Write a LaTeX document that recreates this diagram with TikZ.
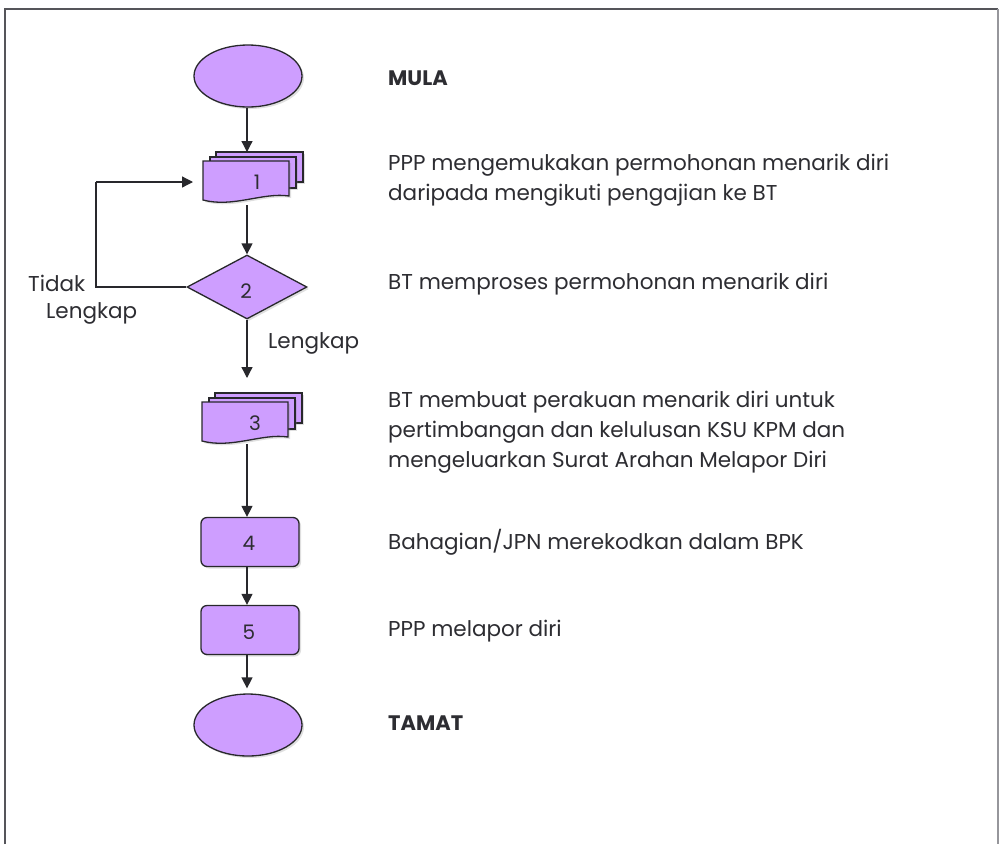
\documentclass[tikz,border=0pt]{standalone}
\usepackage{fontspec}
\setmainfont{Poppins}
\usetikzlibrary{arrows.meta,shapes.geometric,shadows}

\definecolor{lav}{RGB}{206,158,255}
\definecolor{ink}{RGB}{40,40,44}
\definecolor{txt}{RGB}{45,45,50}
\definecolor{framec}{RGB}{85,85,90}
\definecolor{framelight}{RGB}{150,150,155}

\tikzset{
  shapebase/.style={draw=ink, line width=1.3pt, fill=lav,
    drop shadow={shadow xshift=2pt, shadow yshift=-2pt, opacity=0.25}},
  terminal/.style={shapebase, ellipse, minimum width=108pt, minimum height=62pt, inner sep=0pt},
  processbox/.style={shapebase, rounded corners=6pt, minimum width=98pt, minimum height=49pt, inner sep=0pt},
  decision/.style={shapebase, diamond, minimum width=120pt, minimum height=64pt, inner sep=0pt},
  numtext/.style={text=txt, font=\fontsize{20}{24}\selectfont, inner sep=0pt},
  desc/.style={text=txt, font=\fontsize{21.5}{30}\selectfont, anchor=west, align=left, inner sep=0pt},
  title/.style={desc, font=\fontsize{21}{30}\selectfont\bfseries},
  flow/.style={draw=ink, line width=1.3pt, -{Triangle[width=11pt,length=11pt]}},
  link/.style={draw=ink, line width=1.3pt},
}

% stacked multi-document symbol: #1,#2 = top-left corner of the front page
\newcommand{\docstack}[2]{%
  \path[shapebase] (#1+13,#2-9) rectangle (#1+100,#2+21);
  \path[shapebase] (#1+7,#2-4) rectangle (#1+93,#2+27);
  \path[shapebase] (#1,#2) -- (#1+86,#2) -- (#1+86,#2+35)
    .. controls (#1+60,#2+31) and (#1+30,#2+47) .. (#1,#2+39) -- cycle;
}

\begin{document}
\begin{tikzpicture}[x=1pt, y=-1pt]
  \useasboundingbox (0,0) rectangle (1000,844);
  \fill[white] (0,0) rectangle (1000,844);

  % frame
  \draw[framec, line width=2pt] (5,844) -- (5,9) -- (998,9);
  \draw[framelight, line width=2pt] (998,9) -- (998,844);

  % start / end
  \node[terminal] (mula) at (248,76) {};
  \node[terminal] (tamat) at (248,725) {};

  % step 1 (documents)
  \docstack{203}{161}
  \node[numtext] (s1) at (257,182) {1};
  \coordinate (d1top) at (247,152);
  \coordinate (d1bot) at (247,205);
  \coordinate (d1left) at (203,182);

  % step 2 (decision)
  \node[decision] (s2) at (247,287) {};
  \node[numtext] at (246,291) {2};

  % step 3 (documents)
  \docstack{202}{402}
  \node[numtext] (s3) at (255,423) {3};
  \coordinate (d3bot) at (247,444);
  \coordinate (afterok) at (247,378);

  % steps 4 and 5
  \node[processbox] (s4) at (250,542) {};
  \node[numtext] at (249,543) {4};
  \node[processbox] (s5) at (250,630) {};
  \node[numtext] at (249,632) {5};

  % connectors
  \draw[flow] (mula.south -| d1top) -- (d1top);
  \draw[flow] (d1bot) -- (d1bot |- s2.north);
  \draw[link] (s2.west) -- (96,287) -- (96,182);
  \draw[flow, shorten >=10pt] (96,182) -- (d1left);
  \draw[flow] (s2.south) -- (afterok);
  \draw[flow] (d3bot) -- (d3bot |- s4.north);
  \draw[flow] (s4.south -| d3bot) -- (d3bot |- s5.north);
  \draw[flow, shorten >=5pt] (s5.south -| d3bot) -- (d3bot |- tamat.north);

  % branch labels
  \node[desc] (tidak) at (28,283) {Tidak};
  \node[desc] (lengkap1) at (46,313) {Lengkap};
  \node[desc] (lengkap2) at (268,343) {Lengkap};

  % descriptions
  \node[title] (tmula) at (388,78) {MULA};
  \node[desc] (t1) at (388,180) {PPP mengemukakan permohonan menarik diri\\daripada mengikuti pengajian ke BT};
  \node[desc] (t2) at (388,284) {BT memproses permohonan menarik diri};
  \node[desc] (t3) at (388,432) {BT membuat perakuan menarik diri untuk\\pertimbangan dan kelulusan KSU KPM dan\\mengeluarkan Surat Arahan Melapor Diri};
  \node[desc] (t4) at (388,542) {Bahagian/JPN merekodkan dalam BPK};
  \node[desc] (t5) at (388,631) {PPP melapor diri};
  \node[title] (ttamat) at (388,723) {TAMAT};
\end{tikzpicture}
\end{document}
